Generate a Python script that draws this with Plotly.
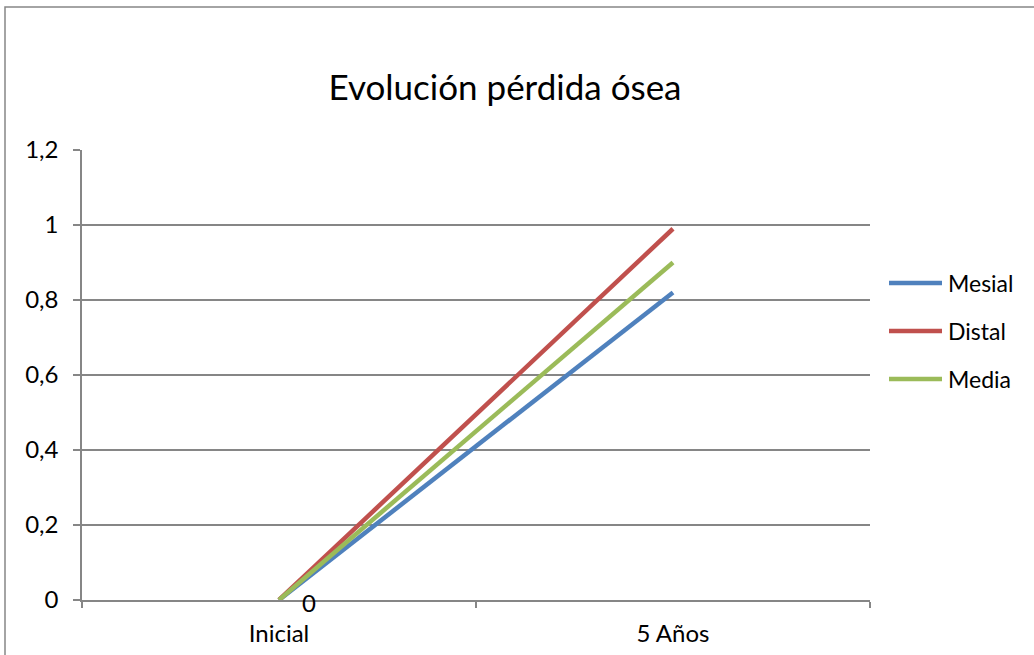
import plotly.graph_objects as go

# Bone loss evolution per site
categories = ["Inicial", "5 Años"]
mesial = [0, 0.82]
distal = [0, 0.99]
media = [0, 0.90]

series_names = ["Mesial", "Distal", "Media"]
series_values = [mesial, distal, media]
series_colors = ["#4F81BD", "#C0504D", "#9BBB59"]

y_ticks = [0, 0.2, 0.4, 0.6, 0.8, 1, 1.2]

FONT = "Lato, 'Noto Sans', sans-serif"
AXIS_GRAY = "#868686"

W, H = 1034, 655
L, R, T, B = 82, 164, 150, 55
PW, PH = W - L - R, H - T - B


def px_x(px):
    return (px - L) / PW


def px_y(py):
    return (H - B - py) / PH


fig = go.Figure()
for name, vals, col in zip(series_names, series_values, series_colors):
    fig.add_trace(go.Scatter(
        x=categories, y=vals, name=name, mode="lines",
        line=dict(color=col, width=4.5), showlegend=False,
    ))

# data label on the starting point
fig.add_annotation(
    x=categories[0], y=media[0], text=f"{media[0]:g}", showarrow=False,
    xanchor="left", yanchor="middle", xshift=21, yshift=-2,
    font=dict(family=FONT, size=24, color="#000000"),
)

# legend drawn as line samples with labels
legend_rows = [283, 331, 379]
for name, col, py in zip(series_names, series_colors, legend_rows):
    fig.add_shape(type="line", xref="paper", yref="paper",
                  x0=px_x(889), x1=px_x(942), y0=px_y(py), y1=px_y(py),
                  line=dict(color=col, width=4.5))
    fig.add_annotation(xref="paper", yref="paper", x=px_x(946), y=px_y(py),
                       text=name, showarrow=False, xanchor="left", yanchor="middle",
                       font=dict(family=FONT, size=23, color="#000000"))

# chart area border
fig.add_shape(type="rect", xref="paper", yref="paper",
              x0=px_x(5), x1=px_x(1040), y0=px_y(7), y1=px_y(660),
              line=dict(color=AXIS_GRAY, width=1.5), fillcolor="rgba(0,0,0,0)",
              layer="below")

fig.update_layout(
    width=W, height=H,
    margin=dict(l=L, r=R, t=T, b=B, pad=0, autoexpand=False),
    paper_bgcolor="white", plot_bgcolor="white",
    separators=", ",
    title=dict(text="Evolución pérdida ósea", x=505 / W, xanchor="center",
               y=1 - 88 / H, yanchor="middle", automargin=False,
               font=dict(family=FONT, size=35, color="#000000")),
    font=dict(family=FONT, size=23, color="#000000"),
    xaxis=dict(
        type="category", range=[-0.5, 1.5], tickson="boundaries",
        showgrid=False, showline=True, linecolor=AXIS_GRAY, linewidth=1.5,
        ticks="outside", ticklen=6, tickcolor=AXIS_GRAY, tickwidth=1.5,
        ticklabelstandoff=11, automargin=False,
        tickfont=dict(family=FONT, size=24, color="#000000"),
        zeroline=False, fixedrange=True,
    ),
    yaxis=dict(
        range=[0, 1.2], tickvals=y_ticks,
        showgrid=True, gridcolor=AXIS_GRAY, gridwidth=1.5,
        showline=True, linecolor=AXIS_GRAY, linewidth=1.5,
        ticks="outside", ticklen=7, tickcolor=AXIS_GRAY, tickwidth=1.5,
        ticklabelstandoff=10, automargin=False,
        tickfont=dict(family=FONT, size=24, color="#000000"),
        zeroline=False, fixedrange=True,
    ),
)

fig.write_html("out.html")
